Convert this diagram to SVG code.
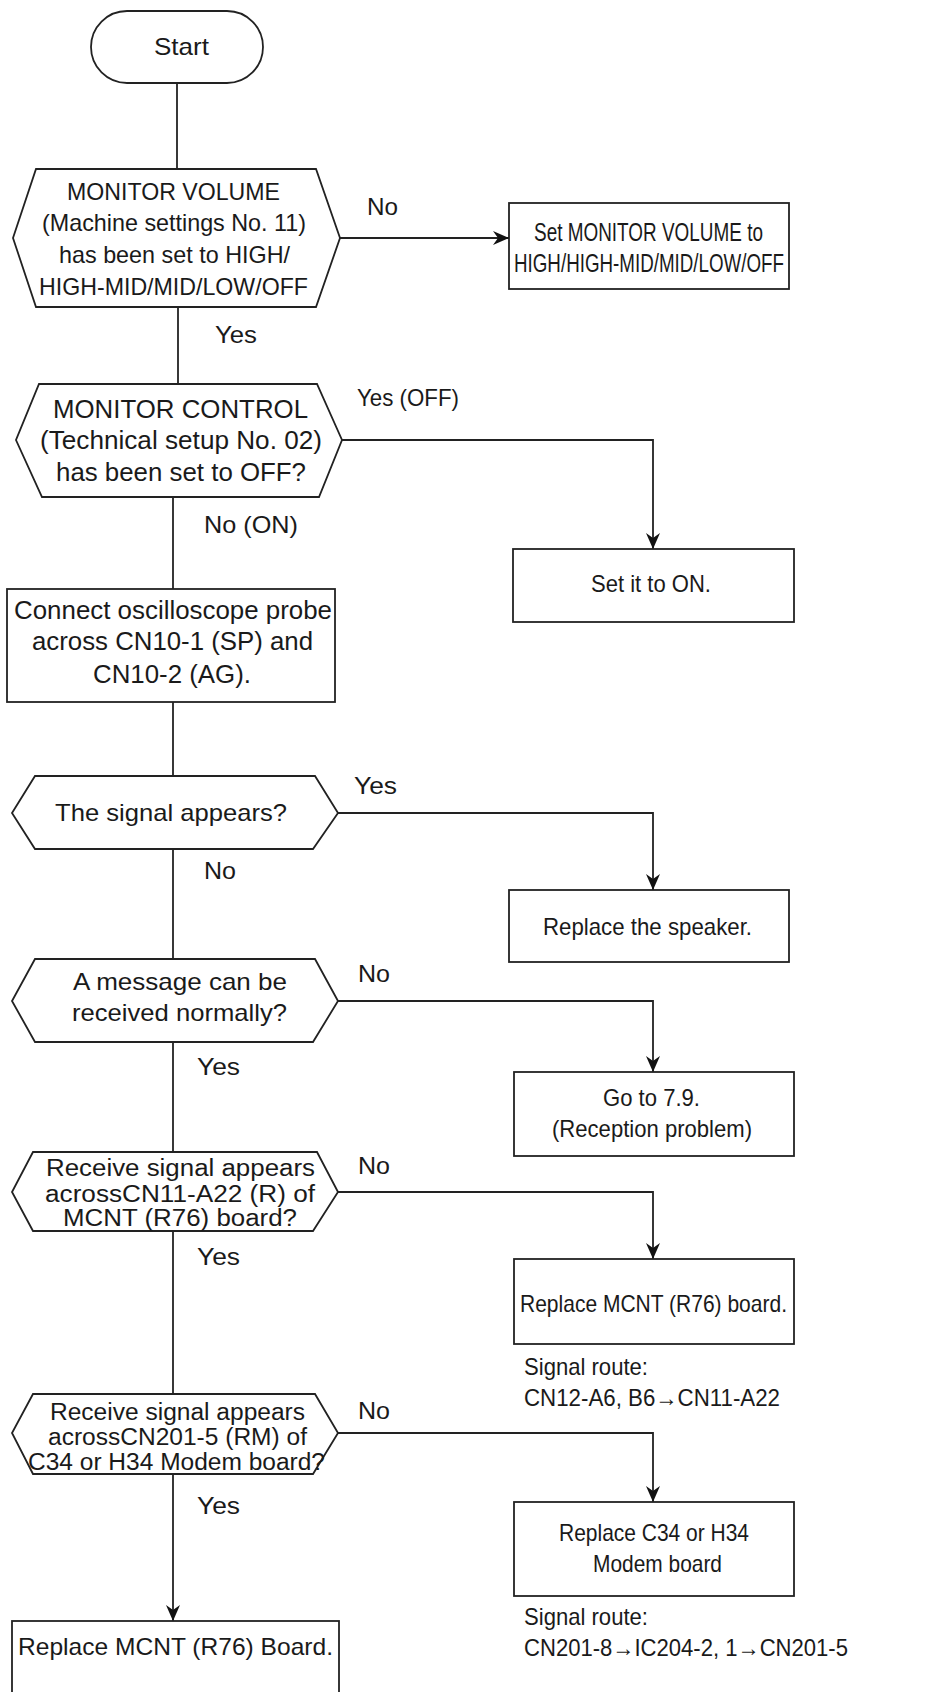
<svg xmlns="http://www.w3.org/2000/svg" width="940" height="1692" viewBox="0 0 940 1692">
  <style>
    .shape { fill: #ffffff; stroke: #222222; stroke-width: 1.8; }
    .wire { fill: none; stroke: #222222; stroke-width: 1.8; }
    .t { font-family: "Liberation Sans", Arial, sans-serif; font-size: 24px; fill: #1a1a1a; }
    .tb { font-family: "Liberation Sans", Arial, sans-serif; font-size: 25px; fill: #1a1a1a; }
    .ts { font-family: "Liberation Sans", Arial, sans-serif; font-size: 23px; fill: #1a1a1a; }
  </style>
  <defs>
    <marker id="arrow" viewBox="0 0 16 14" refX="16" refY="7" markerWidth="16" markerHeight="14" markerUnits="userSpaceOnUse" orient="auto">
      <path d="M0,0 L16,7 L0,14 L5,7 Z" fill="#111111"/>
    </marker>
  </defs>

  <rect width="940" height="1692" fill="#ffffff"/>

  <!-- connectors -->
  <g id="connectors">
    <path class="wire" d="M177,83 L177,169"/>
    <path class="wire" d="M340,238 L509,238" marker-end="url(#arrow)"/>
    <path class="wire" d="M178,307 L178,384"/>
    <path class="wire" d="M342,440 L653,440 L653,549" marker-end="url(#arrow)"/>
    <path class="wire" d="M173,497 L173,589"/>
    <path class="wire" d="M173,702 L173,776"/>
    <path class="wire" d="M338,813 L653,813 L653,890" marker-end="url(#arrow)"/>
    <path class="wire" d="M173,849 L173,959"/>
    <path class="wire" d="M338,1001 L653,1001 L653,1072" marker-end="url(#arrow)"/>
    <path class="wire" d="M173,1042 L173,1152"/>
    <path class="wire" d="M338,1192 L653,1192 L653,1259" marker-end="url(#arrow)"/>
    <path class="wire" d="M173,1231 L173,1394"/>
    <path class="wire" d="M338,1433 L653,1433 L653,1502" marker-end="url(#arrow)"/>
    <path class="wire" d="M173,1474 L173,1621" marker-end="url(#arrow)"/>

    <!-- branch labels -->
    <text class="t" x="367" y="215" textLength="31" lengthAdjust="spacingAndGlyphs">No</text>
    <text class="t" x="215" y="343" textLength="42" lengthAdjust="spacingAndGlyphs">Yes</text>
    <text class="t" x="357" y="406" textLength="102" lengthAdjust="spacingAndGlyphs">Yes (OFF)</text>
    <text class="t" x="204" y="533" textLength="94" lengthAdjust="spacingAndGlyphs">No (ON)</text>
    <text class="t" x="354" y="794" textLength="43" lengthAdjust="spacingAndGlyphs">Yes</text>
    <text class="t" x="204" y="879" textLength="32" lengthAdjust="spacingAndGlyphs">No</text>
    <text class="t" x="358" y="982" textLength="32" lengthAdjust="spacingAndGlyphs">No</text>
    <text class="t" x="197" y="1075" textLength="43" lengthAdjust="spacingAndGlyphs">Yes</text>
    <text class="t" x="358" y="1174" textLength="32" lengthAdjust="spacingAndGlyphs">No</text>
    <text class="t" x="197" y="1265" textLength="43" lengthAdjust="spacingAndGlyphs">Yes</text>
    <text class="t" x="358" y="1419" textLength="32" lengthAdjust="spacingAndGlyphs">No</text>
    <text class="t" x="197" y="1514" textLength="43" lengthAdjust="spacingAndGlyphs">Yes</text>
  </g>

  <g id="start">
    <rect class="shape" x="91" y="11" width="172" height="72" rx="36" ry="36"/>
    <text class="t" x="154" y="55" textLength="55" lengthAdjust="spacingAndGlyphs">Start</text>
  </g>

  <g id="check-monitor-volume">
    <polygon class="shape" points="36,169 316,169 340,238 316,307 36,307 13,238"/>
    <text class="t" x="67" y="200" textLength="213" lengthAdjust="spacingAndGlyphs">MONITOR VOLUME</text>
    <text class="t" x="42" y="231" textLength="264" lengthAdjust="spacingAndGlyphs">(Machine settings No. 11)</text>
    <text class="t" x="59" y="263" textLength="231" lengthAdjust="spacingAndGlyphs">has been set to HIGH/</text>
    <text class="t" x="39" y="295" textLength="269" lengthAdjust="spacingAndGlyphs">HIGH-MID/MID/LOW/OFF</text>
  </g>

  <g id="set-monitor-volume">
    <rect class="shape" x="509" y="203" width="280" height="86"/>
    <text class="tb" x="534" y="241" textLength="229" lengthAdjust="spacingAndGlyphs">Set MONITOR VOLUME to</text>
    <text class="tb" x="514" y="272" textLength="270" lengthAdjust="spacingAndGlyphs">HIGH/HIGH-MID/MID/LOW/OFF</text>
  </g>

  <g id="check-monitor-control">
    <polygon class="shape" points="39,384 317,384 342,440 319,497 42,497 16,440"/>
    <text class="tb" x="53" y="418" textLength="255" lengthAdjust="spacingAndGlyphs">MONITOR CONTROL</text>
    <text class="tb" x="40" y="449" textLength="282" lengthAdjust="spacingAndGlyphs">(Technical setup No. 02)</text>
    <text class="tb" x="56" y="481" textLength="250" lengthAdjust="spacingAndGlyphs">has been set to OFF?</text>
  </g>

  <g id="set-it-on">
    <rect class="shape" x="513" y="549" width="281" height="73"/>
    <text class="t" x="591" y="592" textLength="120" lengthAdjust="spacingAndGlyphs">Set it to ON.</text>
  </g>

  <g id="connect-probe">
    <rect class="shape" x="7" y="589" width="328" height="113"/>
    <text class="tb" x="14" y="619" textLength="318" lengthAdjust="spacingAndGlyphs">Connect oscilloscope probe</text>
    <text class="tb" x="32" y="650" textLength="281" lengthAdjust="spacingAndGlyphs">across CN10-1 (SP) and</text>
    <text class="tb" x="93" y="683" textLength="158" lengthAdjust="spacingAndGlyphs">CN10-2 (AG).</text>
  </g>

  <g id="check-signal">
    <polygon class="shape" points="35,776 315,776 338,813 313,849 35,849 12,813"/>
    <text class="t" x="55" y="821" textLength="232" lengthAdjust="spacingAndGlyphs">The signal appears?</text>
  </g>

  <g id="replace-speaker">
    <rect class="shape" x="509" y="890" width="280" height="72"/>
    <text class="t" x="543" y="935" textLength="209" lengthAdjust="spacingAndGlyphs">Replace the speaker.</text>
  </g>

  <g id="check-message">
    <polygon class="shape" points="35,959 315,959 338,1001 313,1042 35,1042 12,1001"/>
    <text class="t" x="73" y="990" textLength="214" lengthAdjust="spacingAndGlyphs">A message can be</text>
    <text class="t" x="72" y="1021" textLength="215" lengthAdjust="spacingAndGlyphs">received normally?</text>
  </g>

  <g id="goto-reception">
    <rect class="shape" x="514" y="1072" width="280" height="84"/>
    <text class="t" x="603" y="1106" textLength="97" lengthAdjust="spacingAndGlyphs">Go to 7.9.</text>
    <text class="t" x="552" y="1137" textLength="200" lengthAdjust="spacingAndGlyphs">(Reception problem)</text>
  </g>

  <g id="check-mcnt-signal">
    <polygon class="shape" points="33,1152 317,1152 338,1192 313,1231 33,1231 12,1192"/>
    <text class="ts" x="46" y="1176" textLength="269" lengthAdjust="spacingAndGlyphs">Receive signal appears</text>
    <text class="ts" x="45" y="1202" textLength="270" lengthAdjust="spacingAndGlyphs">acrossCN11-A22 (R) of</text>
    <text class="ts" x="63" y="1226" textLength="234" lengthAdjust="spacingAndGlyphs">MCNT (R76) board?</text>
  </g>

  <g id="replace-mcnt">
    <rect class="shape" x="514" y="1259" width="280" height="85"/>
    <text class="t" x="520" y="1312" textLength="267" lengthAdjust="spacingAndGlyphs">Replace MCNT (R76) board.</text>
    <text class="t" x="524" y="1375" textLength="124" lengthAdjust="spacingAndGlyphs">Signal route:</text>
    <text class="t" x="524" y="1406" textLength="256" lengthAdjust="spacingAndGlyphs">CN12-A6, B6→CN11-A22</text>
  </g>

  <g id="check-modem-signal">
    <polygon class="shape" points="33,1394 315,1394 338,1433 313,1474 33,1474 12,1433"/>
    <text class="ts" x="50" y="1420" textLength="255" lengthAdjust="spacingAndGlyphs">Receive signal appears</text>
    <text class="ts" x="48" y="1445" textLength="259" lengthAdjust="spacingAndGlyphs">acrossCN201-5 (RM) of</text>
    <text class="ts" x="28" y="1470" textLength="297" lengthAdjust="spacingAndGlyphs">C34 or H34 Modem board?</text>
  </g>

  <g id="replace-modem">
    <rect class="shape" x="514" y="1502" width="280" height="94"/>
    <text class="t" x="559" y="1541" textLength="190" lengthAdjust="spacingAndGlyphs">Replace C34 or H34</text>
    <text class="t" x="593" y="1572" textLength="129" lengthAdjust="spacingAndGlyphs">Modem board</text>
    <text class="t" x="524" y="1625" textLength="124" lengthAdjust="spacingAndGlyphs">Signal route:</text>
    <text class="t" x="524" y="1656" textLength="324" lengthAdjust="spacingAndGlyphs">CN201-8→IC204-2, 1→CN201-5</text>
  </g>

  <g id="replace-mcnt-final">
    <rect class="shape" x="12" y="1621" width="327" height="90"/>
    <text class="t" x="18" y="1655" textLength="315" lengthAdjust="spacingAndGlyphs">Replace MCNT (R76) Board.</text>
  </g>
</svg>
